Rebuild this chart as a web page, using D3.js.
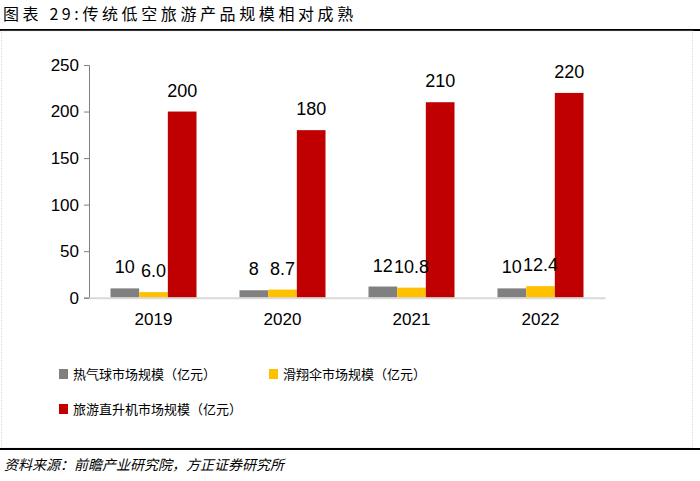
<!DOCTYPE html>
<html>
<head>
<meta charset="utf-8">
<script src="https://cdn.jsdelivr.net/npm/d3@7"></script>
<style>
  body { margin: 0; background: #fff; }
  svg { display: block; }
</style>
</head>
<body>
<svg id="chart" width="700" height="481"></svg>
<script>
// data
var years = ['2019', '2020', '2021', '2022'];
var seriesNames = ['热气球市场规模（亿元）', '滑翔伞市场规模（亿元）', '旅游直升机市场规模（亿元）'];
var balloon = [10, 8, 12, 10];
var paraglider = [6.0, 8.7, 10.8, 12.4];
var helicopter = [200, 180, 210, 220];
var yTicks = [0, 50, 100, 150, 200, 250];

var colors = ['#808080', '#FFC000', '#C00000'];
var formats = [d3.format('d'), d3.format('.1f'), d3.format('d')];
var values = [balloon, paraglider, helicopter];

var svg = d3.select('#chart');
var fontLatin = 'Liberation Sans, Arial, sans-serif';
var fontCjk = '"Noto Sans CJK SC", sans-serif';

// title
svg.append('text')
  .attr('x', 3)
  .attr('y', 20)
  .style('font-family', fontCjk)
  .style('font-size', '16px')
  .style('letter-spacing', '3.6px')
  .attr('fill', '#000')
  .text('图表 29:传统低空旅游产品规模相对成熟');

svg.append('line')
  .attr('x1', 0).attr('x2', 700)
  .attr('y1', 30).attr('y2', 30)
  .attr('stroke', '#000').attr('stroke-width', 2);

// light frame
svg.append('rect')
  .attr('x', 1.5).attr('y', 31)
  .attr('width', 691).attr('height', 417)
  .attr('fill', 'none')
  .attr('stroke', '#d9d9d9')
  .attr('stroke-dasharray', '1,1');

// scales
var plotLeft = 89, plotRight = 605, plotTop = 65, plotBottom = 297.7;

var x0 = d3.scaleBand().domain(years).range([plotLeft, plotRight]).padding(0);
var x1 = d3.scaleBand().domain([0, 1, 2]).range([0, x0.bandwidth()])
  .paddingInner(0).paddingOuter(0.75);
var y = d3.scaleLinear().domain([0, 250]).range([plotBottom, plotTop]);

// y axis
var yAxis = svg.append('g')
  .attr('transform', 'translate(' + plotLeft + ',0)')
  .call(d3.axisLeft(y).tickValues(yTicks).tickSize(5).tickPadding(5));
yAxis.select('.domain').attr('stroke', '#7f7f7f');
yAxis.selectAll('.tick line').attr('stroke', '#7f7f7f');
yAxis.selectAll('.tick text')
  .style('font-family', fontLatin)
  .style('font-size', '17px')
  .attr('fill', '#000');

// bars
var groups = svg.selectAll('g.year')
  .data(years)
  .enter().append('g')
  .attr('class', 'year')
  .attr('transform', function (d) { return 'translate(' + x0(d) + ',0)'; });

groups.selectAll('rect')
  .data(function (d, i) { return [0, 1, 2].map(function (s) { return { s: s, v: values[s][i] }; }); })
  .enter().append('rect')
  .attr('x', function (d) { return x1(d.s); })
  .attr('width', x1.bandwidth())
  .attr('y', function (d) { return y(d.v); })
  .attr('height', function (d) { return y(0) - y(d.v); })
  .attr('fill', function (d) { return colors[d.s]; });

groups.selectAll('text.val')
  .data(function (d, i) { return [0, 1, 2].map(function (s) { return { s: s, v: values[s][i] }; }); })
  .enter().append('text')
  .attr('class', 'val')
  .attr('x', function (d) { return x1(d.s) + x1.bandwidth() / 2; })
  .attr('y', function (d) { return y(d.v) - 15; })
  .attr('text-anchor', 'middle')
  .style('font-family', fontLatin)
  .style('font-size', '18px')
  .attr('fill', '#000')
  .text(function (d) { return formats[d.s](d.v); });

// x axis
var xAxis = svg.append('g')
  .attr('transform', 'translate(0,' + plotBottom + ')')
  .call(d3.axisBottom(x0).tickSize(0).tickPadding(15));
xAxis.select('.domain').attr('stroke', '#d9d9d9').attr('stroke-width', 2);
xAxis.selectAll('.tick text')
  .style('font-family', fontLatin)
  .style('font-size', '17px')
  .attr('fill', '#000');

// legend
var legendPos = [[59, 374], [269, 374], [59, 409]];
var legend = svg.selectAll('g.legend')
  .data(seriesNames)
  .enter().append('g')
  .attr('class', 'legend')
  .attr('transform', function (d, i) { return 'translate(' + legendPos[i][0] + ',' + legendPos[i][1] + ')'; });

legend.append('rect')
  .attr('x', 0).attr('y', -5)
  .attr('width', 9).attr('height', 10)
  .attr('fill', function (d, i) { return colors[i]; });

legend.append('text')
  .attr('x', 14)
  .attr('y', 0)
  .attr('dy', '0.35em')
  .style('font-family', fontCjk)
  .style('font-size', '13px')
  .attr('fill', '#000')
  .text(function (d) { return d; });

// footer
svg.append('line')
  .attr('x1', 0).attr('x2', 700)
  .attr('y1', 449).attr('y2', 449)
  .attr('stroke', '#000').attr('stroke-width', 2);

svg.append('text')
  .attr('x', 4)
  .attr('y', 470)
  .style('font-family', fontCjk)
  .style('font-size', '14px')
  .style('font-style', 'italic')
  .attr('fill', '#000')
  .text('资料来源：前瞻产业研究院，方正证券研究所');
</script>
</body>
</html>
